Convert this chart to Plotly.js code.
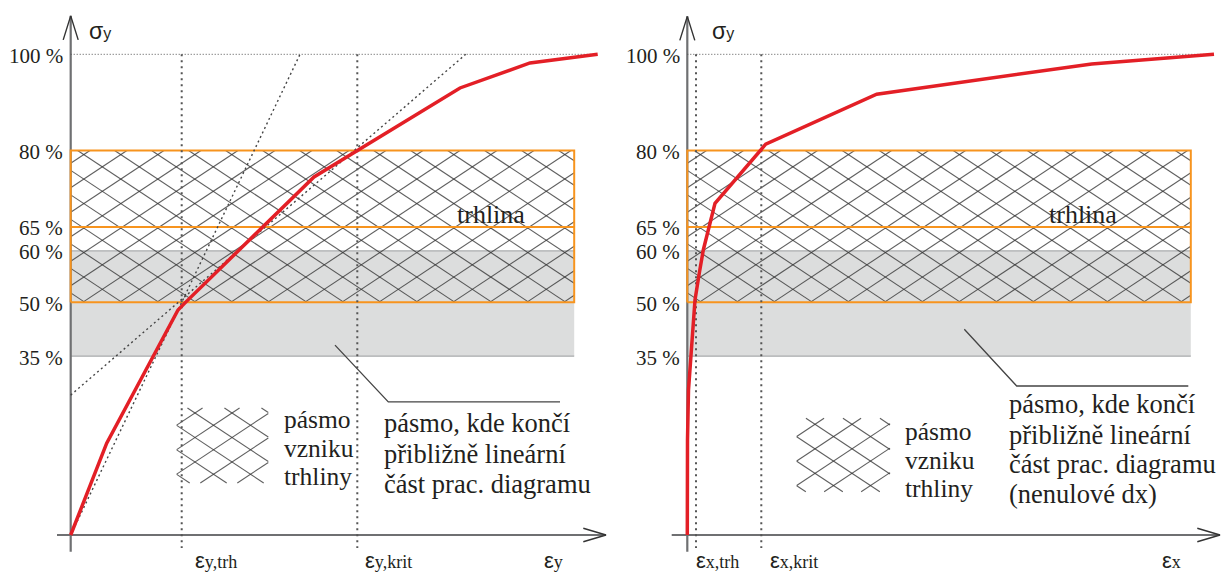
<!DOCTYPE html>
<html>
<head>
<meta charset="utf-8">
<script src="https://cdn.plot.ly/plotly-3.0.1.min.js"></script>
<style>html,body{margin:0;padding:0;background:#fff;}#chart{width:1221px;height:572px;}</style>
</head>
<body>
<div id="chart"></div>
<script>
// ---------- data ----------
const levelLabels = ['100 %', '80 %', '65 %', '60 %', '50 %', '35 %'];
const levelPos    = [100, 80, 64.1, 59.1, 48.4, 37.2];   // drawn height of each level

const leftCurveX  = [0, 36, 107.3, 115.3, 243.3, 389.3, 459.3, 527];
const leftCurveY  = [0, 19.1, 46.8, 48.5, 74.5, 93.0, 98.2, 100];
const rightCurveX = [0, 0.2, 1.2, 3.4, 7.7, 12, 16, 27.7, 78.4, 189.4, 404.4, 526.7];
const rightCurveY = [0, 19.8, 30.2, 37.0, 48.9, 54.5, 59.3, 69.0, 81.3, 91.7, 98.0, 100];

const leftMarks   = [111, 286.6];     // eps_y,trh , eps_y,krit
const rightMarks  = [8.7, 74];        // eps_x,trh , eps_x,krit
const leftMarkLabels  = ['y,trh', 'y,krit', 'y'];
const rightMarkLabels = ['x,trh', 'x,krit', 'x'];

const tangent1X = [0, 229.3], tangent1Y = [0, 100];
const tangent2X = [0, 395],   tangent2Y = [29.1, 100];

const bandEnd = 503.5;

const textLinearL = ['pásmo, kde končí', 'přibližně lineární', 'část prac. diagramu'];
const textLinearR = ['pásmo, kde končí', 'přibližně lineární', 'část prac. diagramu', '(nenulové dx)'];
const textLegend  = ['pásmo', 'vzniku', 'trhliny'];
const textCrack   = 'trhlina';

// ---------- styles ----------
const AX = '#6f7072', ORANGE = '#f7941e', RED = '#e31f26', GRAYFILL = '#dcdddd', TXT = '#231f20';
const SERIF = 'Liberation Serif', SANS = 'Liberation Sans';
const slope = 0.13775, hStep = 5.097;

function hatch(x0, x1, y0, y1, cx, cy) {
  const xs = [], ys = [];
  [1, -1].forEach(sg => {
    const m = sg * slope, b0 = cy - m * cx;
    const bmin = Math.min(y0 - m * x0, y0 - m * x1), bmax = Math.max(y1 - m * x0, y1 - m * x1);
    const kmin = Math.ceil((bmin - b0) / hStep), kmax = Math.floor((bmax - b0) / hStep);
    for (let k = kmin; k <= kmax; k++) {
      const b = b0 + k * hStep;
      const xa = (y0 - b) / m, xb = (y1 - b) / m;
      const lo = Math.max(x0, Math.min(xa, xb)), hi = Math.min(x1, Math.max(xa, xb));
      if (hi > lo) { xs.push(lo, hi, null); ys.push(m * lo + b, m * hi + b, null); }
    }
  });
  return {xs, ys};
}

const traces = [];
const annotations = [];

function panel(xa, ya, o) {
  const L = {type: 'scatter', mode: 'lines', xaxis: xa, yaxis: ya, hoverinfo: 'skip', showlegend: false};
  const add = (x, y, line, extra) => traces.push(Object.assign({}, L, {x, y, line}, extra || {}));
  const yTop = levelPos[0], y80 = levelPos[1], y65 = levelPos[2], y60 = levelPos[3], y50 = levelPos[4], y35 = levelPos[5];
  // gray band
  add([0, bandEnd, bandEnd, 0, 0], [y35, y35, y60, y60, y35], {width: 0, color: GRAYFILL}, {fill: 'toself', fillcolor: GRAYFILL});
  add([0, bandEnd, null, 0, bandEnd], [y60, y60, null, y35, y35], {width: 1.3, color: '#a9abad'});
  // hatch band
  const hb = hatch(0, bandEnd, y50, y80, o.hcx, o.hcy);
  add(hb.xs, hb.ys, {width: 1.1, color: 'rgba(50,50,50,0.78)'});
  // legend hatch
  const hl = hatch(o.lg[0], o.lg[1], o.lg[2], o.lg[3], o.lg[4], o.lg[5]);
  add(hl.xs, hl.ys, {width: 1.1, color: 'rgba(50,50,50,0.78)'});
  // axes
  add([o.xAx[0], o.xAx[1]], [0, 0], {width: 2.2, color: AX});
  add([0, 0], [o.yAx[0], o.yAx[1]], {width: 2.2, color: AX});
  add([o.xAx[1] - 22.7, o.xAx[1], o.xAx[1] - 22.7], [1.4, 0, -1.4], {width: 1.4, color: '#333'});
  add([-7.5, 0, 7.5], [o.yAx[1] - 5, o.yAx[1], o.yAx[1] - 5], {width: 1.4, color: '#333'});
  // orange outlines
  add([0, bandEnd, bandEnd, 0, 0], [y50, y50, y80, y80, y50], {width: 2, color: ORANGE});
  add([0, bandEnd], [y65, y65], {width: 2, color: ORANGE});
  // 100 % dotted
  add([0, o.curveX[o.curveX.length - 1]], [yTop, yTop], {width: 1, color: '#555', dash: '1px,2px'});
  // vertical dotted
  o.marks.forEach(m => add([m, m], [yTop, -2.7], {width: 2, color: '#555', dash: '2px,4px'}));
  // extra dotted (tangents)
  (o.tangents || []).forEach(t => add(t[0], t[1], {width: 1.4, color: '#444', dash: '2px,3px'}));
  // leader line
  add(o.leader[0], o.leader[1], {width: 1.3, color: '#444'});
  // red curve
  add(o.curveX, o.curveY, {width: 3.5, color: RED});

  // y labels
  levelLabels.forEach((t, i) => annotations.push({xref: xa, yref: ya, x: 0, y: levelPos[i], text: t, showarrow: false,
    xanchor: 'right', yanchor: 'middle', xshift: o.lblShift, yshift: -1.5, font: {family: SERIF, size: 21, color: TXT}}));
  // sigma
  annotations.push({xref: xa, yref: ya, x: o.sigX, y: 104.8, showarrow: false, xanchor: 'left', yanchor: 'middle',
    text: 'σ<span style="font-size:16px">y</span>', font: {family: SANS, size: 23, color: TXT}});
  // epsilon labels
  o.epsX.forEach((x, i) => annotations.push({xref: xa, yref: ya, x: x, y: -5.3, showarrow: false, xanchor: 'left', yanchor: 'middle',
    text: 'ε<span style="font-family:Liberation Serif;font-size:18px">' + o.epsLbl[i] + '</span>', font: {family: SANS, size: 22, color: TXT}}));
  // texts
  const big = {family: SERIF, size: 26.5, color: TXT};
  const leg = {family: SERIF, size: 25.5, color: TXT};
  o.linText.forEach((t, i) => annotations.push({xref: xa, yref: ya, x: o.linX, y: o.linY[i], text: t, showarrow: false,
    xanchor: 'left', yanchor: 'middle', font: big}));
  textLegend.forEach((t, i) => annotations.push({xref: xa, yref: ya, x: o.legX, y: o.legY[i], text: t, showarrow: false,
    xanchor: 'left', yanchor: 'middle', font: leg}));
  annotations.push({xref: xa, yref: ya, x: o.crackX, y: 66.6, text: textCrack, showarrow: false, xanchor: 'left', yanchor: 'middle',
    font: {family: SERIF, size: 26, color: TXT}});
}

panel('x', 'y', {
  curveX: leftCurveX, curveY: leftCurveY, marks: leftMarks,
  tangents: [[tangent1X, tangent1Y], [tangent2X, tangent2Y]],
  xAx: [-13.7, 535.3], yAx: [-3.5, 108.0],
  hcx: 327.6, hcy: 76.6,
  lg: [106, 197.6, 10.82, 26.42, 124.3, 25.38],
  leader: [[264.3, 317.6, 489.3], [39.5, 27.7, 27.7]],
  lblShift: -6, sigX: 16.6,
  epsX: [122.3, 292, 471], epsLbl: leftMarkLabels,
  linText: textLinearL, linX: 311, linY: [23.36, 16.78, 10.67],
  legX: 211.3, legY: [24.1, 18.1, 12.1], crackX: 384.3
});
panel('x2', 'y2', {
  curveX: rightCurveX, curveY: rightCurveY, marks: rightMarks,
  tangents: [],
  xAx: [-15.6, 532.7], yAx: [-3.5, 107.9],
  hcx: 327.6, hcy: 76.6,
  lg: [109.4, 202.7, 9.0, 24.28, 127.7, 23.03],
  leader: [[277, 329.4, 501], [42.8, 31.0, 31.0]],
  lblShift: -5, sigX: 22.7,
  epsX: [7, 81, 472.7], epsLbl: rightMarkLabels,
  linText: textLinearR, linX: 320, linY: [27.31, 20.74, 14.83, 8.59],
  legX: 215.7, legY: [21.5, 15.6, 9.7], crackX: 359.4
});

const hidden = {visible: false, showgrid: false, zeroline: false, fixedrange: true};
const yr = [-7.697, 111.3];
const layout = {
  width: 1221, height: 572, margin: {l: 0, r: 0, t: 0, b: 0},
  paper_bgcolor: '#fff', plot_bgcolor: '#fff', showlegend: false,
  xaxis:  Object.assign({}, hidden, {domain: [0, 610 / 1221], range: [-70.7, 539.3], anchor: 'y'}),
  xaxis2: Object.assign({}, hidden, {domain: [612 / 1221, 1], range: [-75.3, 533.7], anchor: 'y2'}),
  yaxis:  Object.assign({}, hidden, {domain: [0, 1], range: yr, anchor: 'x'}),
  yaxis2: Object.assign({}, hidden, {domain: [0, 1], range: yr, anchor: 'x2'}),
  annotations: annotations
};
Plotly.newPlot('chart', traces, layout, {staticPlot: true, displayModeBar: false});
</script>
</body>
</html>
